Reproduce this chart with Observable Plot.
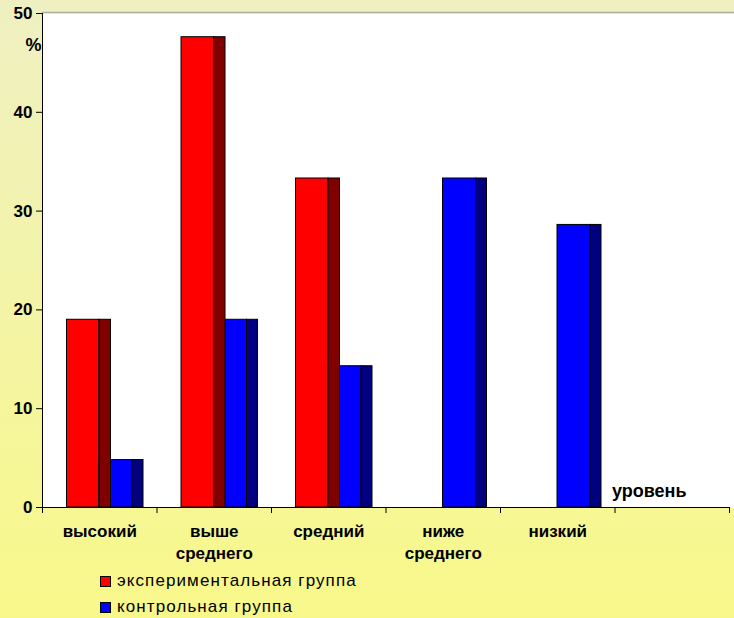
<!DOCTYPE html>
<html><head><meta charset="utf-8">
<script src="https://cdn.jsdelivr.net/npm/d3@7"></script>
<script src="https://cdn.jsdelivr.net/npm/@observablehq/plot@0.6"></script>
<style>
html,body{margin:0;padding:0;}
body{width:734px;height:618px;overflow:hidden;background:linear-gradient(#eff0c2,#f8f88a);font-family:"Liberation Sans",Arial,sans-serif;position:relative;}
#chart svg{display:block;}
[aria-label="xlab"] text{letter-spacing:2.2px;}
[aria-label="xname"] text{letter-spacing:2.8px;}
#legend{position:absolute;left:100px;top:568px;font-size:17px;letter-spacing:1.1px;color:#000;}
.row{display:flex;align-items:center;height:26px;}
.sw{width:9px;height:9px;border:1px solid #000;margin-right:6px;}
</style></head><body><div id="chart"></div><div id="legend"></div>
<script>
const categories = ["высокий","выше\nсреднего","средний","ниже\nсреднего","низкий",""];
const experimental = [19.0, 47.6, 33.3, 0, 0, null];
const control = [4.8, 19.0, 14.3, 33.3, 28.6, null];
const yTicks = [0, 10, 20, 30, 40, 50];
const seriesNames = ["экспериментальная группа", "контрольная группа"];
const frontColors = ["#ff0000", "#0000ff"];
const sideColors = ["#800000", "#000080"];
const xName = "уровень";
const yName = "%";

const rows = [];
categories.forEach((c, i) => {
  if (experimental[i] > 0) rows.push({i, s: 0, v: experimental[i]});
  if (control[i] > 0) rows.push({i, s: 1, v: control[i]});
});
const red = rows.filter(d => d.s === 0);
const blue = rows.filter(d => d.s === 1);
const bar = (data, fill, l, r) => Plot.rectY(data, {
  x1: d => d.i, x2: d => d.i + 1, y: "v", fill, stroke: "#000", strokeWidth: 1,
  insetLeft: l, insetRight: r
});

const chart = Plot.plot({
  width: 734, height: 565,
  marginLeft: 42, marginRight: 5, marginTop: 13, marginBottom: 58,
  style: {background: "transparent", fontFamily: "'Liberation Sans', Arial, sans-serif", color: "#000"},
  x: {type: "linear", domain: [0, categories.length]},
  y: {domain: [0, 50]},
  marks: [
    Plot.frame({fill: "white", insetRight: -5}),
    Plot.ruleY([50], {stroke: "#b0b09a", strokeWidth: 1.5, insetRight: -5, dy: -1}),
    bar(red, frontColors[0], 24.5, 57.5),
    bar(blue, frontColors[1], 57, 24.5),
    bar(blue, sideColors[1], 90, 13.5),
    bar(red, sideColors[0], 57, 46),
    Plot.ruleX([0], {stroke: "#000"}),
    Plot.ruleY([0], {stroke: "#000"}),
    Plot.axisY({ticks: yTicks, tickSize: 6, tickPadding: 4, fontSize: 17, fontWeight: "bold", label: null}),
    Plot.axisX({ticks: d3.range(categories.length + 1), tickSize: 6, tickFormat: () => "", label: null}),
    Plot.text(categories, {x: (d, i) => i + 0.5, y: 0, text: d => d, lineAnchor: "top", dy: 14,
      fontSize: 17, fontWeight: "bold", lineHeight: 1.3, ariaLabel: "xlab"}),
    Plot.text([yName], {x: 0, y: 50, text: d => d, dx: -9, dy: 32, fontSize: 18, fontWeight: "bold"}),
    Plot.text([xName], {x: categories.length - 1, y: 0, text: d => d, textAnchor: "start", dx: -3, dy: -16,
      fontSize: 18, fontWeight: "bold", ariaLabel: "xname"})
  ]
});
document.getElementById("chart").append(chart);

const legend = document.getElementById("legend");
seriesNames.forEach((n, k) => {
  const r = document.createElement("div"); r.className = "row";
  const sw = document.createElement("span"); sw.className = "sw"; sw.style.background = frontColors[k];
  const t = document.createElement("span"); t.textContent = n;
  r.append(sw, t); legend.append(r);
});
</script></body></html>
